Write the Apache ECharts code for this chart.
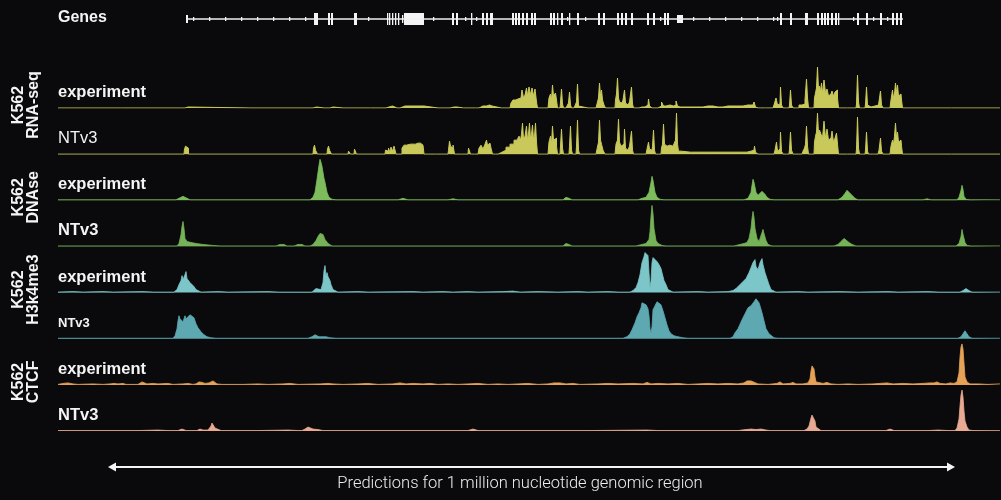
<!DOCTYPE html>
<html>
<head>
<meta charset="utf-8">
<script src="https://cdn.jsdelivr.net/npm/echarts@6/dist/echarts.min.js"></script>
<style>
  html, body { margin: 0; padding: 0; background: #0a0a0c; }
  #chart { width: 1001px; height: 500px; }
</style>
</head>
<body>
<div id="chart"></div>
<script>
// Genomic window split into 942 bins (~1.06 kb each)
const regionBins = 942;

// Gene annotation: transcript span, exon blocks [start, end], small exons/UTRs, strand ticks
const geneSpan = [128, 845];
const geneExons = [
  [256, 260], [270, 272], [273, 275], [296, 299],
  [329, 330], [331, 332], [334, 335], [337, 338], [340, 341],
  [346, 366], [394, 396], [398, 400], [413, 414],
  [424, 426], [428, 430], [432, 435],
  [454, 456], [457, 459], [460, 462], [464, 466], [468, 470], [473, 475], [476, 478],
  [492, 494], [495, 497], [499, 500], [503, 505], [511, 512], [519, 521],
  [540, 542], [545, 547], [559, 561], [563, 565], [567, 569], [573, 575],
  [589, 591], [595, 597], [606, 608], [609, 611],
  [722, 724], [732, 734], [747, 750],
  [759, 761], [763, 765], [766, 768], [769, 771], [773, 775], [777, 779], [780, 781],
  [799, 801], [808, 810], [822, 824], [834, 836], [838, 840], [842, 844]
];
const geneSmallExons = [[128, 130], [344, 345], [619, 625]];
const strandTicks = [135, 151, 167, 183, 199, 215, 231, 247, 310, 375, 407, 418,
  509, 527, 602, 635, 651, 667, 683, 699, 715, 719, 795, 815, 829];

// K562 RNA-seq coverage [bin, signal]
const rnaExperiment = [
  [0,0],[127,0],[129,1],[131,0],[255,0],[257,1],[260,0],[272,0],[274,1],[276,0],
  [294,0],[295,1],[297,0],[328,0],[329,2],[331,1],[333,2],[336,0],
  [342,0],[344,2],[350,2],[358,2],[366,2],[368,0],[392,0],[394,1],[398,1],[400,0],
  [411,0],[412,1],[414,0],[421,0],[423,2],[427,2],[430,3],[433,2],[435,0],
  [452,0],[454,5],[456,8],[459,9],[461,7],[463,10],[465,18],[466,10],[468,13],[469,20],
  [470,12],[472,21],[473,13],[475,20],[476,12],[478,19],[479,6],[480,0],
  [490,0],[492,10],[493,14],[494,8],[495,23],[496,12],[497,10],[498,15],[499,8],[500,0],
  [502,0],[503,6],[504,19],[505,4],[506,0],[510,0],[511,5],[512,16],[513,3],[514,0],
  [518,0],[519,6],[520,24],[521,2],[522,0],
  [538,0],[540,4],[541,10],[542,25],[543,12],[544,18],[545,8],[547,3],[548,0],
  [557,0],[558,8],[559,14],[560,30],[561,10],[562,6],[564,5],[566,8],[567,18],[568,5],
  [570,3],[573,6],[574,21],[575,4],[576,0],
  [580,0],[582,1],[586,1],[588,2],[590,3],[591,9],[592,2],[594,0],
  [600,0],[602,2],[605,6],[606,2],[610,3],[614,2],[617,3],[619,7],[620,2],
  [622,1],[630,1],[640,1],[650,2],[660,1],[670,2],[680,2],[690,3],[695,3],[697,6],[698,1],[700,0],
  [715,0],[717,3],[719,10],[720,3],[722,4],[723,21],[724,3],[726,0],
  [731,0],[732,3],[733,18],[734,3],[736,0],
  [740,0],[742,3],[746,4],[748,8],[749,29],[750,10],[751,0],
  [756,0],[757,10],[758,15],[759,20],[760,41],[761,18],[762,22],[763,16],[764,25],[765,14],
  [767,28],[768,15],[770,19],[771,12],[773,14],[775,17],[776,12],[778,16],[779,18],[780,10],[781,0],
  [798,0],[799,4],[800,33],[801,6],[802,0],[807,0],[808,4],[809,21],[810,3],[811,1],
  [815,2],[819,3],[822,4],[823,17],[824,3],[826,0],
  [832,0],[834,8],[835,18],[836,10],[837,14],[838,25],[839,15],[840,23],[841,12],[843,14],[844,8],[845,0],
  [942,0]
];
const rnaPredicted = [
  [0,0],[126,0],[127,5],[128,8],[129,8],[130,6],[131,0],
  [255,0],[256,6],[257,9],[258,4],[259,5],[260,0],[269,0],[270,5],[271,8],[272,4],[273,3],[274,0],
  [290,0],[291,3],[292,4],[293,0],[296,0],[297,5],[298,6],[299,0],
  [327,0],[328,4],[329,6],[330,3],[331,6],[332,2],[334,7],[335,3],[337,8],[339,0],
  [343,0],[345,6],[347,9],[350,10],[355,10],[360,11],[365,9],[367,0],
  [390,0],[391,4],[392,13],[393,8],[394,6],[396,9],[397,0],[410,0],[411,6],[412,8],[413,0],
  [420,0],[422,6],[424,9],[426,5],[428,10],[429,14],[430,9],[432,11],[434,6],[435,0],
  [440,0],[442,2],[446,4],[450,7],[454,10],[458,14],[460,16],[462,18],[463,14],
  [464,20],[465,31],[466,15],[468,18],[469,28],[470,14],[471,20],[472,31],[473,15],[474,20],
  [475,29],[476,15],[477,18],[478,31],[479,12],[480,0],
  [490,0],[492,12],[493,18],[494,10],[495,28],[496,14],[497,12],[498,16],[499,8],[500,0],
  [502,0],[503,8],[504,25],[505,6],[506,0],[511,0],[512,8],[513,28],[514,4],[515,0],
  [518,0],[519,8],[520,34],[521,4],[522,0],
  [538,0],[540,5],[541,12],[542,34],[543,14],[544,10],[546,4],[548,0],
  [557,0],[559,10],[560,14],[561,35],[562,12],[564,8],[566,10],[567,25],[568,6],[570,4],
  [573,8],[574,23],[575,4],[576,0],
  [588,0],[590,5],[591,12],[592,5],[594,4],[595,8],[596,24],[597,4],[598,0],
  [603,0],[604,6],[605,10],[606,30],[607,10],[609,8],[612,9],[615,8],[617,10],[618,14],[619,41],[620,10],[621,3],
  [625,2],[640,2],[655,2],[670,2],[685,2],[693,3],[696,4],[697,8],[698,2],[700,0],
  [716,0],[718,4],[719,12],[720,3],[722,5],[723,22],[724,3],[726,0],
  [731,0],[732,5],[733,22],[734,4],[736,0],
  [744,0],[746,3],[747,6],[748,10],[749,28],[750,8],[751,0],
  [756,0],[757,12],[758,18],[759,22],[760,41],[761,20],[762,24],[764,20],[765,16],[767,33],
  [768,16],[770,25],[771,14],[773,16],[775,23],[776,12],[778,16],[779,21],[780,10],[781,0],
  [798,0],[799,5],[800,37],[801,6],[802,0],[807,0],[808,4],[809,22],[810,3],[811,0],
  [820,0],[822,4],[823,16],[824,3],[826,0],
  [832,0],[834,8],[835,14],[836,10],[837,18],[838,31],[839,16],[840,22],[841,12],[843,14],[844,8],[845,0],
  [942,0]
];

// K562 DNase accessibility [bin, signal]
const dnaseExperiment = [
  [0,0.5],[40,0.5],[80,0.5],[118,0.5],[121,2],[125,4],[129,2],[132,0.5],[200,0.5],[240,0.5],
  [252,0.5],[255,3],[257,8],[259,21],[261,35],[262,41],[263,38],[264,34],[266,22],[267,18],
  [269,8],[271,3],[274,1],[278,0.5],
  [340,0.5],[345,2],[350,0.5],[390,0.5],[395,1.5],[400,0.5],
  [505,0.5],[508,3],[509,4],[511,2],[514,0.5],
  [580,0.5],[584,2],[588,3],[591,8],[593,18],[594,24],[595,20],[597,8],[599,3],[602,1],[606,0.5],
  [686,0.5],[690,2],[693,8],[694,15],[695,21],[696,18],[698,8],[700,5],[702,6],[704,9],[705,10],
  [707,6],[709,3],[712,1],[716,0.5],
  [780,0.5],[784,3],[787,7],[789,10],[791,8],[794,5],[797,2],[800,0.5],
  [865,0.5],[869,1.5],[873,0.5],
  [899,0.5],[901,3],[903,10],[904,15],[905,11],[906,4],[908,1],[912,0.5],[942,0.5]
];
const dnasePredicted = [
  [0,0.5],[60,0.5],[110,0.5],[119,0.5],[121,3],[123,12],[124,20],[125,25],[126,18],[127,8],
  [129,5],[133,4],[138,3],[145,2],[155,1],[162,0.5],
  [218,0.5],[222,2],[224,3],[226,2],[229,0.5],[236,0.5],[240,2],[242,3],[244,2],[247,0.5],
  [252,0.5],[255,2],[258,6],[260,10],[262,13],[263,14],[265,12],[267,7],[270,3],[274,0.5],
  [340,0.5],[400,0.5],[460,0.5],[505,0.5],[508,3],[509,4],[511,2],[514,0.5],
  [578,0.5],[584,2],[588,3],[591,7],[592,15],[593,30],[594,41],[595,33],[596,18],[598,6],
  [600,3],[604,1],[608,0.5],
  [676,0.5],[682,2],[686,3],[689,4],[691,8],[693,18],[694,28],[695,35],[696,29],[697,18],
  [699,8],[701,5],[702,8],[704,14],[705,17],[706,13],[708,6],[710,2],[714,0.5],
  [776,0.5],[780,2],[783,5],[786,8],[788,7],[791,4],[794,2],[798,0.5],
  [898,0.5],[901,3],[903,10],[904,17],[905,12],[907,4],[909,1],[913,0.5],[942,0.5]
];

// K562 H3K4me3 ChIP-seq [bin, signal]
const h3k4me3Experiment = [
  [0,0.5],[15,1],[25,0.5],[45,1],[55,0.5],[85,1],[95,0.5],
  [116,0.5],[119,3],[121,8],[123,12],[124,17],[125,13],[126,15],[127,18],[128,21],[129,14],
  [130,16],[131,15],[132,10],[134,10],[136,6],[138,3],[140,1],[143,0.5],
  [160,1],[170,0.5],[210,1],[220,0.5],
  [254,0.5],[256,2],[258,4],[260,2],[263,3],[265,10],[266,22],[267,27],[268,17],[269,20],
  [270,16],[272,12],[273,8],[275,3],[277,1],[280,0.5],
  [300,1],[310,0.5],[355,1],[365,0.5],[385,1],[395,0.5],[410,1],[420,0.5],[445,1],[455,1.5],
  [462,0.5],[480,1],[500,0.5],[520,1],[530,0.5],[550,1],[560,0.5],
  [572,0.5],[575,2],[578,5],[580,10],[582,18],[584,30],[585,33],[586,36],[587,40],[588,38],
  [589,39],[590,37],[591,20],[592,5],[593,12],[594,30],[595,35],[597,33],[599,31],[601,28],
  [603,24],[604,20],[606,12],[608,8],[610,3],[612,1],[615,0.5],
  [640,1],[650,0.5],[670,1],
  [672,0.5],[675,2],[678,4],[682,8],[685,11],[688,14],[691,20],[693,25],[695,30],[697,33],
  [698,26],[700,23],[702,30],[704,34],[705,28],[707,20],[709,14],[711,8],[713,3],[715,1],[718,0.5],
  [740,1],[750,0.5],[780,1],[800,0.5],[830,1],[840,0.5],[870,1],[880,0.5],
  [902,0.5],[905,2],[908,4],[911,2],[914,0.5],[942,0.5]
];
const h3k4me3Predicted = [
  [0,0.5],[100,0.5],
  [115,0.5],[117,3],[119,10],[120,18],[121,23],[122,20],[123,19],[124,18],[125,17],[126,20],
  [127,23],[128,20],[129,19],[130,21],[132,24],[133,26],[134,25],[136,21],[138,15],[140,11],
  [143,7],[146,4],[149,2],[153,1],[158,0.5],
  [250,0.5],[254,2],[257,4],[259,3],[261,2],[264,2],[268,2],[272,1],[278,0.5],
  [400,0.5],[500,0.5],
  [565,0.5],[569,2],[572,5],[574,9],[577,16],[579,22],[581,26],[583,31],[584,36],[586,35],
  [588,34],[590,30],[591,23],[592,10],[593,6],[594,12],[595,29],[597,33],[599,37],[601,36],
  [603,34],[605,28],[607,21],[609,14],[611,8],[613,5],[616,3],[620,2],[625,1],[630,0.5],
  [672,0.5],[675,2],[677,6],[680,10],[684,19],[687,25],[690,31],[693,33],[696,37],[698,40],
  [699,41],[701,36],[702,33],[704,26],[706,18],[708,10],[711,5],[713,3],[716,1],[720,0.5],
  [900,0.5],[903,2],[905,5],[907,8],[909,5],[911,2],[914,0.5],[942,0.5]
];

// K562 CTCF ChIP-seq [bin, signal]
const ctcfExperiment = [
  [0,0.5],[5,1.5],[10,2],[15,1],[20,0.5],[35,1],[45,0.5],[52,1],[56,1.5],[60,1],[65,1.5],[68,0.5],
  [80,0.5],[82,2],[84,3],[86,2],[89,1],[95,1.5],[100,1],[110,1.5],[115,0.5],[125,1],[130,1.5],[135,0.5],
  [138,1],[141,3],[144,2.5],[147,1.5],[151,2],[153,3],[155,4],[157,3],[159,1],[164,0.5],
  [185,0.5],[200,1],[210,0.5],[225,1],[232,1.5],[240,0.5],
  [262,1],[270,1.5],[272,2.5],[275,1],[285,0.5],[300,1],[310,1.5],[320,0.5],[335,1],[342,2],
  [348,1],[355,1.5],[365,1],[372,1.5],[380,0.5],[390,1],[400,0.5],[410,1],[420,1.5],[430,0.5],
  [440,1],[450,0.5],[460,1],[470,1.5],[480,0.5],[490,1],[496,2],[502,2],[508,1],[515,1.5],
  [522,0.5],[540,1],[550,1.5],[560,1],[575,1.5],[585,1],[589,2.5],[593,1],[600,1.5],[610,1],
  [620,1.5],[630,0.5],[640,1],[650,1.5],[660,1],[670,1.5],[680,1],[686,2],[689,4],[691,2.5],
  [693,4],[695,2],[700,1],[710,0.5],[719,1.5],[722,3],[725,1],[732,1.5],[735,2.5],[738,1],
  [745,1],[750,2],[752,6],[753,14],[754,19],[755,21],[756,16],[757,8],[758,3],[760,2],
  [765,1.5],[769,2.5],[773,1],[780,0.5],[790,1],[800,0.5],[815,1],[822,1.5],[829,2],[835,1],
  [845,1.5],[855,1],[865,1.5],[872,2],[876,2],[879,3],[882,1.5],[888,1],[892,2],[896,1.5],
  [899,3],[901,12],[902,28],[903,38],[904,41],[905,36],[906,22],[907,8],[909,3],[912,1],
  [920,1],[930,0.5],[942,1]
];
const ctcfPredicted = [
  [0,0.5],[40,0.5],[80,0.5],[100,1],[110,0.5],[120,0.5],[124,2],[128,0.5],
  [139,0.5],[142,2],[145,1],[150,1],[152,2],[153,5],[154,8],[155,9],[156,7],[157,3],[159,1],[163,0.5],
  [200,0.5],[230,1],[240,0.5],[244,0.5],[247,2],[249,3],[250,4],[252,3],[255,2],[260,1.5],[265,0.5],
  [410,0.5],[415,2],[420,0.5],[480,0.5],[530,0.5],[589,1],[600,0.5],
  [680,0.5],[688,1.5],[693,2],[698,1.5],[703,2],[708,1],[712,0.5],
  [746,0.5],[749,2],[751,5],[753,13],[754,16],[755,17],[756,15],[757,10],[758,4],[760,2],[763,0.5],
  [800,0.5],[828,0.5],[832,2],[836,0.5],[870,0.5],[880,1],[890,0.5],
  [897,0.5],[899,3],[901,12],[902,25],[903,36],[904,41],[905,34],[906,20],[907,10],[909,4],[911,1],[915,0.5],
  [942,0.5]
];

const signalMax = 42;

// RNA-seq coverage is drawn as a stepped histogram, ChIP/DNase as smooth profiles
const tracks = [
  { label: 'experiment', data: rnaExperiment,     color: '#c9c95b', bold: true,  size: 16.5, step: true },
  { label: 'NTv3',       data: rnaPredicted,      color: '#c9c95b', bold: false, size: 16.5, step: true },
  { label: 'experiment', data: dnaseExperiment,   color: '#7dbb5c', bold: true,  size: 16.5 },
  { label: 'NTv3',       data: dnasePredicted,    color: '#76b257', bold: true,  size: 16.5 },
  { label: 'experiment', data: h3k4me3Experiment, color: '#7cc5c8', bold: true,  size: 16.5 },
  { label: 'NTv3',       data: h3k4me3Predicted,  color: '#5ea8b2', bold: true,  size: 13 },
  { label: 'experiment', data: ctcfExperiment,    color: '#e6a357', bold: true,  size: 16.5 },
  { label: 'NTv3',       data: ctcfPredicted,     color: '#e8aa92', bold: true,  size: 16.5 }
];
const groups = [
  { name: 'K562\nRNA-seq', first: 0 },
  { name: 'K562\nDNAse', first: 2 },
  { name: 'K562\nH3k4me3', first: 4 },
  { name: 'K562\nCTCF', first: 6 }
];
const axisCaption = 'Predictions for 1 million nucleotide genomic region';

// layout
const plotLeft = 58, plotRight = 1;
const firstBaseline = 108, trackStep = 46.15, trackHeight = 42;
const font = '"Liberation Sans", Arial, sans-serif';
const textColor = '#f4f4f4';

const grids = [], xAxes = [], yAxes = [], series = [], graphics = [];

// gene track grid (index 0)
grids.push({ left: plotLeft, right: plotRight, top: 9, height: 20 });
xAxes.push({ type: 'value', gridIndex: 0, min: 0, max: regionBins, show: false });
yAxes.push({ type: 'value', gridIndex: 0, min: -1, max: 1, show: false });

series.push({
  type: 'line', xAxisIndex: 0, yAxisIndex: 0, silent: true, symbol: 'none',
  data: [[geneSpan[0], 0], [geneSpan[1], 0]],
  lineStyle: { color: '#f0f0f0', width: 1.6 }
});
const geneHeights = [4, 8, 12];
const geneData = []
  .concat(strandTicks.map(p => [p, p + 0.6, 0]))
  .concat(geneSmallExons.map(e => [e[0], e[1], 1]))
  .concat(geneExons.map(e => [e[0], e[1], 2]));
series.push({
  type: 'custom', xAxisIndex: 0, yAxisIndex: 0, silent: true,
  data: geneData,
  renderItem: function (params, api) {
    const a = api.coord([api.value(0), 0]);
    const b = api.coord([api.value(1), 0]);
    const h = geneHeights[api.value(2)];
    return {
      type: 'rect',
      shape: { x: a[0], y: a[1] - h / 2, width: Math.max(b[0] - a[0], 1.3), height: h },
      style: { fill: '#f4f4f4' }
    };
  }
});
graphics.push({
  type: 'text', left: plotLeft, top: 10,
  style: { text: 'Genes', fill: textColor, font: 'bold 16px ' + font }
});

tracks.forEach((t, i) => {
  const baseline = firstBaseline + i * trackStep;
  const gi = i + 1;
  grids.push({ left: plotLeft, right: plotRight, top: baseline - trackHeight, height: trackHeight });
  xAxes.push({ type: 'value', gridIndex: gi, min: 0, max: regionBins, show: false });
  yAxes.push({ type: 'value', gridIndex: gi, min: 0, max: signalMax, show: false });
  series.push({
    type: 'line', xAxisIndex: gi, yAxisIndex: gi, silent: true,
    symbol: 'none', data: t.data, step: t.step ? 'middle' : false,
    lineStyle: { color: t.color, width: t.step ? 1 : 0.8 },
    areaStyle: { color: t.color, opacity: 1 }
  });
  graphics.push({
    type: 'text', x: plotLeft, y: baseline - 15.5,
    style: {
      text: t.label, fill: textColor, verticalAlign: 'middle',
      font: (t.bold ? 'bold ' : '') + t.size + 'px ' + font
    }
  });
});

groups.forEach(g => {
  const baseline = firstBaseline + g.first * trackStep;
  graphics.push({
    type: 'text', x: 26.5, y: baseline - 3, rotation: Math.PI / 2,
    style: {
      text: g.name, fill: textColor, align: 'center', verticalAlign: 'middle',
      font: 'bold 16px ' + font, lineHeight: 15
    }
  });
});

// double-headed span arrow with caption
const arrowY = 467, arrowL = 108, arrowR = 955;
graphics.push(
  { type: 'line', shape: { x1: arrowL + 5, y1: arrowY, x2: arrowR - 5, y2: arrowY },
    style: { stroke: '#f4f4f4', lineWidth: 2 } },
  { type: 'polygon', shape: { points: [[arrowL, arrowY], [arrowL + 8, arrowY - 4.5], [arrowL + 8, arrowY + 4.5]] },
    style: { fill: '#f4f4f4' } },
  { type: 'polygon', shape: { points: [[arrowR, arrowY], [arrowR - 8, arrowY - 4.5], [arrowR - 8, arrowY + 4.5]] },
    style: { fill: '#f4f4f4' } },
  { type: 'text', x: 520, y: 484,
    style: { text: axisCaption, fill: '#ececec', align: 'center', verticalAlign: 'middle',
             font: '300 16.5px Roboto, sans-serif' } }
);

const chart = echarts.init(document.getElementById('chart'), null, { renderer: 'canvas', width: 1001, height: 500 });
chart.setOption({
  backgroundColor: '#0a0a0c',
  animation: false,
  grid: grids,
  xAxis: xAxes,
  yAxis: yAxes,
  series: series,
  graphic: graphics
});
</script>
</body>
</html>
